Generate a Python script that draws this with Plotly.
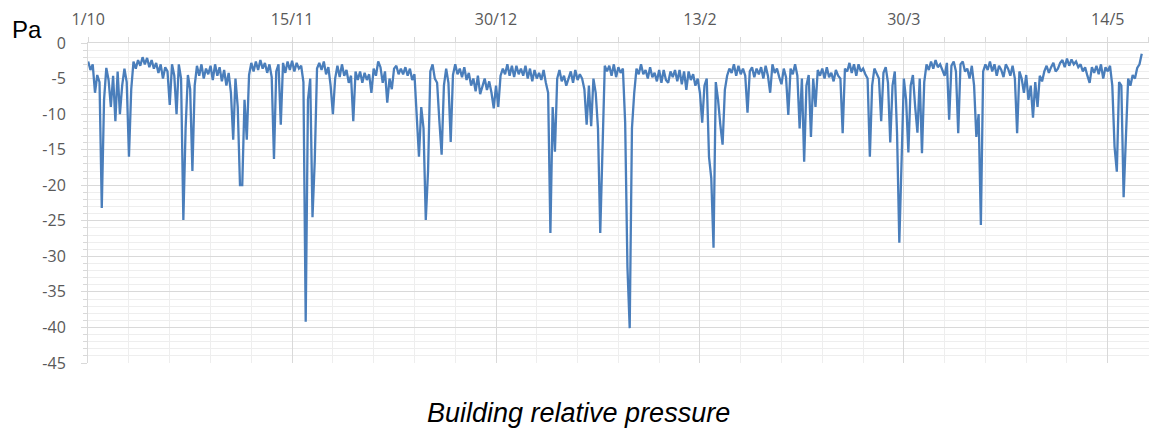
import pandas as pd
import plotly.graph_objects as go

# ---- data (one value every 12 hours from 1 Oct) ----
start_date = "2014-10-01"
sample_step = "12h"
x_tick_labels = ["1/10", "15/11", "30/12", "13/2", "30/3", "14/5"]
y_tick_values = [0, -5, -10, -15, -20, -25, -30, -35, -40, -45]

pressure_pa = [
    -2.6, -3.8, -3.0, -7.0, -4.5, -5.5, -23.2, -8.0, -3.5, -5.2, -9.0, -4.6, -11.0, -4.0, -10.0, -6.0, -3.6, -5.5, -16.0, -6.5,
    -2.6, -3.6, -2.4, -3.2, -2.0, -3.0, -2.1, -3.4, -2.4, -3.6, -2.8, -4.2, -3.0, -5.0, -3.4, -4.0, -8.7, -3.0, -4.6, -10.0,
    -3.0, -5.0, -24.9, -12.0, -4.5, -6.5, -18.0, -6.0, -3.2, -4.6, -3.0, -5.0, -3.6, -4.4, -3.2, -5.2, -3.0, -4.6, -3.4, -5.4,
    -3.8, -6.0, -4.2, -7.0, -13.6, -5.0, -9.0, -20.0, -20.0, -8.0, -13.6, -4.5, -2.8, -4.0, -2.6, -3.8, -2.4, -3.6, -2.8, -4.2,
    -3.0, -4.8, -16.3, -4.0, -3.0, -11.5, -2.8, -4.2, -2.6, -3.8, -2.5, -4.0, -2.8, -3.6, -3.2, -5.5, -39.2, -8.0, -5.0, -24.5,
    -16.5, -3.6, -2.8, -3.8, -2.6, -4.4, -3.4, -6.0, -10.0, -5.0, -3.2, -4.8, -3.0, -4.6, -3.8, -5.6, -4.6, -11.0, -4.0, -5.2,
    -4.0, -5.6, -4.2, -5.2, -4.4, -7.0, -3.6, -4.6, -2.6, -3.4, -5.6, -4.0, -8.4, -5.0, -6.5, -3.6, -3.2, -4.4, -3.6, -4.4,
    -3.4, -4.6, -3.6, -5.2, -4.4, -10.8, -16.0, -9.0, -12.0, -24.9, -18.0, -4.0, -3.0, -5.0, -5.6, -11.0, -15.7, -6.0, -3.6, -5.6,
    -13.9, -4.5, -3.0, -4.4, -3.6, -4.8, -3.4, -5.2, -4.2, -6.0, -5.0, -6.8, -4.6, -7.2, -6.0, -5.0, -6.6, -5.4, -7.0, -9.2,
    -6.0, -9.0, -4.6, -3.6, -4.4, -3.0, -4.6, -3.2, -4.8, -3.2, -4.4, -3.6, -4.6, -3.2, -5.0, -3.6, -5.4, -3.8, -5.0, -4.2,
    -5.2, -3.8, -5.6, -7.0, -26.7, -9.0, -15.3, -5.0, -3.8, -5.4, -4.6, -6.0, -5.0, -4.0, -5.6, -3.8, -5.2, -4.4, -5.0, -6.5,
    -11.5, -6.0, -11.7, -5.0, -7.0, -12.0, -26.7, -12.6, -3.2, -4.0, -3.2, -4.6, -3.0, -4.8, -3.4, -4.2, -3.6, -11.2, -31.5, -40.1,
    -12.0, -7.0, -3.6, -4.4, -3.0, -4.4, -3.8, -5.0, -3.4, -4.8, -4.2, -5.4, -3.8, -5.6, -3.8, -5.2, -5.6, -4.0, -4.8, -3.8,
    -5.4, -3.8, -5.8, -4.0, -6.6, -4.0, -5.2, -4.4, -6.0, -5.0, -7.0, -11.2, -6.0, -5.0, -16.0, -19.0, -28.8, -5.5, -8.0, -11.5,
    -14.3, -6.6, -4.6, -3.6, -4.2, -3.0, -4.6, -3.2, -4.4, -3.6, -4.6, -9.8, -4.0, -3.4, -4.8, -3.6, -4.4, -3.4, -5.0, -3.2,
    -4.6, -7.0, -3.0, -4.2, -3.6, -4.8, -5.8, -3.6, -4.8, -10.1, -3.6, -4.4, -3.0, -4.6, -12.0, -5.0, -16.7, -6.0, -4.5, -13.2,
    -5.0, -9.0, -3.8, -4.6, -3.6, -5.0, -3.4, -4.8, -4.2, -5.4, -3.8, -4.6, -5.0, -12.7, -3.6, -4.0, -2.8, -4.2, -3.0, -4.6,
    -3.0, -4.0, -3.6, -4.4, -5.0, -16.0, -6.0, -3.6, -4.4, -5.0, -11.0, -4.2, -3.4, -5.6, -14.0, -6.0, -4.0, -12.7, -28.1, -16.0,
    -5.0, -8.0, -15.4, -6.0, -4.5, -9.0, -12.6, -5.0, -15.5, -5.5, -3.0, -3.8, -2.6, -3.6, -2.4, -3.4, -3.0, -3.8, -4.6, -2.8,
    -10.8, -3.2, -2.6, -4.0, -12.7, -3.0, -2.6, -4.0, -3.6, -5.0, -3.2, -6.0, -13.2, -10.0, -25.6, -4.0, -3.0, -3.8, -2.6, -4.0,
    -3.0, -4.6, -3.2, -3.8, -4.8, -3.0, -3.6, -4.6, -3.2, -5.0, -12.7, -4.0, -5.0, -7.0, -4.5, -8.0, -6.0, -10.5, -5.5, -9.0,
    -4.6, -5.4, -4.0, -3.2, -4.2, -3.4, -2.8, -4.0, -3.6, -2.8, -2.4, -3.4, -2.2, -3.2, -2.3, -3.0, -2.6, -3.4, -3.0, -4.0,
    -3.4, -4.6, -5.6, -3.4, -4.2, -3.2, -4.4, -3.0, -5.0, -3.4, -4.0, -3.2, -6.0, -14.6, -18.1, -5.5, -6.0, -21.7, -12.0, -5.0,
    -6.0, -4.5, -5.0, -3.5, -3.0, -1.5,
]

times = pd.date_range(start_date, periods=len(pressure_pa), freq=sample_step)
t0 = pd.Timestamp(start_date)
x_tick_dates = [t0 + pd.Timedelta(days=45 * i) for i in range(len(x_tick_labels))]

DAY_MS = 86400000
label_font = dict(family="Open Sans, sans-serif", size=16, color="#595959")
grid_major = "#d9d9d9"
grid_minor = "#eeeeee"

fig = go.Figure(
    go.Scatter(
        x=times,
        y=pressure_pa,
        mode="lines",
        line=dict(color="#4a7ebb", width=2.3),
        showlegend=False,
    )
)

fig.update_layout(
    width=1152,
    height=434,
    margin=dict(l=88, r=3, t=43, b=71, autoexpand=False),
    paper_bgcolor="white",
    plot_bgcolor="white",
    xaxis=dict(
        type="date",
        side="top",
        automargin=False,
        range=[t0 - pd.Timedelta(hours=1), t0 + pd.Timedelta(days=234.1)],
        tickmode="array",
        tickvals=x_tick_dates,
        ticktext=x_tick_labels,
        tickfont=label_font,
        ticks="outside",
        ticklen=5,
        tickcolor=grid_major,
        showline=True,
        linecolor=grid_major,
        showgrid=True,
        gridcolor=grid_major,
        zeroline=False,
        ticklabelstandoff=6,
        minor=dict(
            tick0=start_date,
            dtick=9 * DAY_MS,
            showgrid=True,
            gridcolor=grid_minor,
            ticks="outside",
            ticklen=5,
            tickcolor=grid_major,
        ),
    ),
    yaxis=dict(
        range=[-45, 0],
        automargin=False,
        tickmode="array",
        tickvals=y_tick_values,
        ticktext=[str(v) for v in y_tick_values],
        tickfont=label_font,
        ticks="outside",
        ticklen=6,
        tickcolor=grid_major,
        showline=True,
        linecolor=grid_major,
        showgrid=True,
        gridcolor=grid_major,
        zeroline=False,
        ticklabelstandoff=12,
        minor=dict(
            dtick=1,
            showgrid=True,
            gridcolor=grid_minor,
            ticks="outside",
            ticklen=4,
            tickcolor=grid_major,
        ),
    ),
    annotations=[
        dict(
            text="Pa",
            xref="paper", yref="paper",
            x=(27 - 88) / 1061, y=(363 - 29) / 320,
            xanchor="center", yanchor="middle",
            showarrow=False,
            font=dict(family="Liberation Sans, Arial, sans-serif", size=24, color="black"),
        ),
        dict(
            text="<i>Building relative pressure</i>",
            xref="paper", yref="paper",
            x=(578 - 88) / 1061, y=(363 - 413) / 320,
            xanchor="center", yanchor="middle",
            showarrow=False,
            font=dict(family="Liberation Sans, Arial, sans-serif", size=27, color="black"),
        ),
    ],
)

fig.write_html(
    "out.html",
    config={"displayModeBar": False},
    post_script="document.body.style.margin='0';document.body.style.overflow='hidden';",
)
